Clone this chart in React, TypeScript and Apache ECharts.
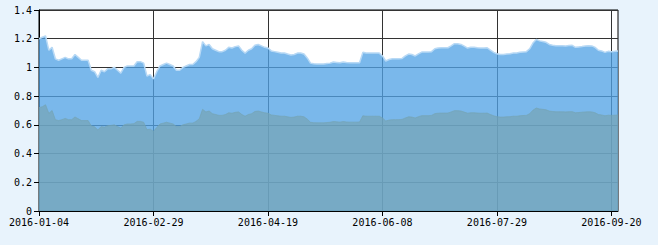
import React, { useEffect, useRef } from "react";
import * as echarts from "echarts";

// Trading calendar (Shanghai exchange, 2016)
const START_DATE = "2016-01-04";
const END_DATE = "2016-09-22";
const HOLIDAYS = [
  "2016-02-08", "2016-02-09", "2016-02-10", "2016-02-11", "2016-02-12",
  "2016-04-04", "2016-05-02", "2016-06-09", "2016-06-10",
  "2016-09-15", "2016-09-16",
];
const LABEL_STEP = 35;

const upperValues = [
  1.20, 1.21, 1.22, 1.12, 1.14, 1.06, 1.05, 1.06, 1.07, 1.06,
  1.06, 1.09, 1.07, 1.05, 1.05, 1.05, 0.98, 0.97, 0.93, 0.98,
  0.97, 0.99, 0.99, 1.00, 0.98, 0.96, 1.00, 1.01, 1.01, 1.01,
  1.04, 1.04, 1.03, 0.94, 0.95, 0.92, 0.97, 1.01, 1.02, 1.03,
  1.02, 1.01, 0.98, 0.98, 1.00, 1.01, 1.02, 1.02, 1.04, 1.07,
  1.18, 1.15, 1.16, 1.13, 1.12, 1.11, 1.11, 1.12, 1.14, 1.135,
  1.145, 1.15, 1.12, 1.10, 1.12, 1.13, 1.155, 1.16, 1.15, 1.14,
  1.135, 1.115, 1.11, 1.105, 1.10, 1.10, 1.093, 1.087, 1.09, 1.10,
  1.10, 1.093, 1.066, 1.03, 1.025, 1.024, 1.024, 1.024, 1.027, 1.03,
  1.038, 1.035, 1.032, 1.038, 1.034, 1.032, 1.032, 1.032, 1.033, 1.105,
  1.10, 1.10, 1.10, 1.10, 1.10, 1.08, 1.045, 1.055, 1.06, 1.06,
  1.06, 1.063, 1.08, 1.093, 1.09, 1.08, 1.095, 1.107, 1.107, 1.107,
  1.11, 1.13, 1.135, 1.137, 1.137, 1.137, 1.15, 1.165, 1.165, 1.16,
  1.148, 1.135, 1.14, 1.14, 1.137, 1.135, 1.135, 1.137, 1.12, 1.105,
  1.095, 1.09, 1.09, 1.093, 1.095, 1.10, 1.10, 1.105, 1.108, 1.11,
  1.13, 1.17, 1.195, 1.185, 1.18, 1.175, 1.16, 1.155, 1.151, 1.151,
  1.151, 1.15, 1.152, 1.154, 1.14, 1.143, 1.146, 1.15, 1.151, 1.15,
  1.14, 1.12, 1.115, 1.105, 1.112, 1.11, 1.112, 1.115,
];

const lowerValues = [
  0.72, 0.726, 0.74, 0.68, 0.70, 0.636, 0.63, 0.636, 0.645, 0.636,
  0.636, 0.655, 0.642, 0.63, 0.63, 0.63, 0.592, 0.586, 0.564, 0.588,
  0.584, 0.594, 0.596, 0.60, 0.588, 0.578, 0.60, 0.606, 0.606, 0.608,
  0.624, 0.624, 0.618, 0.566, 0.57, 0.555, 0.582, 0.606, 0.612, 0.618,
  0.612, 0.606, 0.588, 0.588, 0.60, 0.606, 0.612, 0.612, 0.624, 0.642,
  0.708, 0.69, 0.696, 0.678, 0.672, 0.666, 0.666, 0.672, 0.684, 0.681,
  0.687, 0.69, 0.672, 0.66, 0.672, 0.678, 0.693, 0.696, 0.69, 0.684,
  0.681, 0.669, 0.666, 0.663, 0.66, 0.66, 0.656, 0.652, 0.654, 0.66,
  0.66, 0.656, 0.64, 0.618, 0.615, 0.614, 0.614, 0.614, 0.616, 0.618,
  0.623, 0.621, 0.619, 0.623, 0.62, 0.619, 0.619, 0.619, 0.62, 0.663,
  0.66, 0.66, 0.66, 0.66, 0.66, 0.648, 0.627, 0.633, 0.636, 0.636,
  0.636, 0.638, 0.648, 0.656, 0.654, 0.648, 0.657, 0.664, 0.664, 0.664,
  0.666, 0.678, 0.681, 0.682, 0.682, 0.682, 0.69, 0.699, 0.699, 0.696,
  0.689, 0.681, 0.684, 0.684, 0.682, 0.681, 0.681, 0.682, 0.672, 0.663,
  0.657, 0.654, 0.654, 0.656, 0.657, 0.66, 0.66, 0.663, 0.665, 0.666,
  0.678, 0.702, 0.717, 0.711, 0.708, 0.705, 0.696, 0.693, 0.691, 0.691,
  0.691, 0.69, 0.691, 0.692, 0.684, 0.686, 0.688, 0.69, 0.691, 0.69,
  0.684, 0.672, 0.669, 0.663, 0.667, 0.666, 0.667, 0.669,
];

function tradingDays(start: string, end: string, holidays: string[]): string[] {
  const out: string[] = [];
  const d = new Date(start + "T00:00:00Z");
  const e = new Date(end + "T00:00:00Z");
  while (d.getTime() <= e.getTime()) {
    const s = d.toISOString().slice(0, 10);
    const wd = d.getUTCDay();
    if (wd !== 0 && wd !== 6 && holidays.indexOf(s) < 0) out.push(s);
    d.setUTCDate(d.getUTCDate() + 1);
  }
  return out;
}

const categories = tradingDays(START_DATE, END_DATE, HOLIDAYS);

const FONT = "'DejaVu Sans Mono', monospace";
const every = (idx: number) => idx % LABEL_STEP === 0;

export default function App() {
  const ref = useRef<HTMLDivElement>(null);
  useEffect(() => {
    if (!ref.current) return;
    const chart = echarts.init(ref.current, undefined, { renderer: "svg" });
    chart.setOption({
      animation: false,
      backgroundColor: "#e8f3fc",
      grid: {
        left: 39,
        right: 40,
        top: 10,
        bottom: 34,
        show: true,
        backgroundColor: "#ffffff",
        borderColor: "#000000",
        borderWidth: 1,
      },
      xAxis: {
        type: "category",
        data: categories,
        boundaryGap: false,
        axisLine: { show: true, lineStyle: { color: "#000", width: 1 } },
        axisTick: { show: true, interval: every, length: 5, lineStyle: { color: "#000" } },
        axisLabel: {
          interval: every,
          color: "#000",
          fontFamily: FONT,
          fontSize: 10,
          margin: 6,
          hideOverlap: false,
        },
        splitLine: { show: true, interval: every, lineStyle: { color: "#333", width: 1 } },
      },
      yAxis: {
        type: "value",
        min: 0,
        max: 1.4,
        interval: 0.2,
        axisLine: { show: true, lineStyle: { color: "#000", width: 1 } },
        axisTick: { show: true, length: 5, lineStyle: { color: "#000" } },
        axisLabel: { color: "#000", fontFamily: FONT, fontSize: 10, margin: 7 },
        splitLine: { show: true, lineStyle: { color: "#333", width: 1 } },
      },
      series: [
        {
          type: "line",
          data: upperValues,
          symbol: "none",
          lineStyle: { color: "#b8d9f5", width: 1.5 },
          areaStyle: { color: "rgba(81,162,229,0.765)", opacity: 1 },
          z: 2,
        },
        {
          type: "line",
          data: lowerValues,
          symbol: "none",
          lineStyle: { color: "rgba(118,164,180,0.69)", width: 1 },
          areaStyle: { color: "rgba(118,164,180,0.69)", opacity: 1 },
          z: 3,
        },
      ],
    });
    return () => chart.dispose();
  }, []);
  return (
    <div
      ref={ref}
      style={{ position: "fixed", left: 0, top: 0, width: 658, height: 245 }}
    />
  );
}
